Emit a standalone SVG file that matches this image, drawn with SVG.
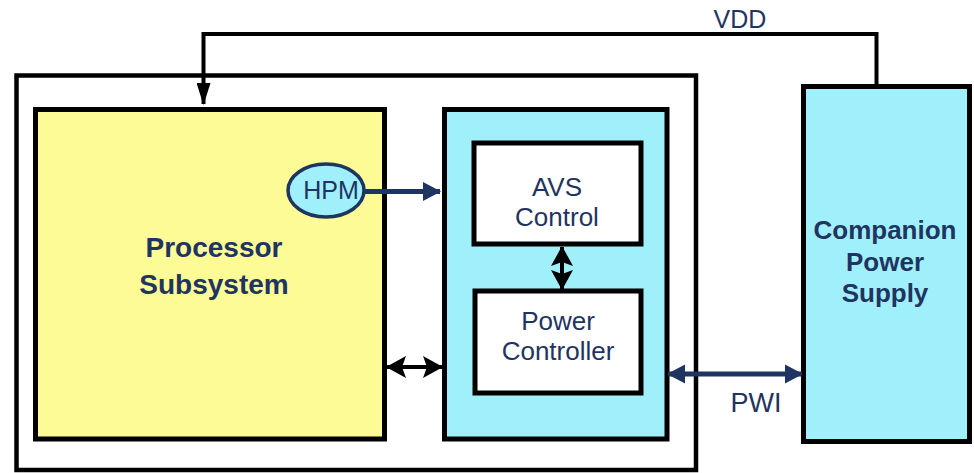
<svg xmlns="http://www.w3.org/2000/svg" width="974" height="473" viewBox="0 0 974 473">
  <defs>
    <style>
      .box { stroke: #000; stroke-width: 5; }
      .yellow { fill: #FCFB96; }
      .cyan { fill: #A0F0FC; }
      .white { fill: #FFFFFF; }
      .label { font-family: "Liberation Sans", Arial, sans-serif; fill: #1F3461; text-anchor: middle; }
      .bold { font-weight: bold; }
      .wire { fill: none; stroke: #000; stroke-width: 4; }
      .link { fill: none; stroke: #000; stroke-width: 4; }
      .bus { fill: none; stroke: #1F3461; stroke-width: 5; }
    </style>
    <marker id="headBlack" viewBox="0 0 20 22" refX="19" refY="11" markerWidth="20" markerHeight="22" markerUnits="userSpaceOnUse" orient="auto-start-reverse">
      <path d="M0,0 L20,11 L0,22 L4,11 Z" fill="#000"/>
    </marker>
    <marker id="headNavy" viewBox="0 0 18 20" refX="17" refY="10" markerWidth="18" markerHeight="20" markerUnits="userSpaceOnUse" orient="auto-start-reverse">
      <path d="M0,0.5 L18,10 L0,19.5 Z" fill="#1F3461"/>
    </marker>
    <marker id="headVdd" viewBox="0 0 14 22" refX="7" refY="21" markerWidth="14" markerHeight="22" markerUnits="userSpaceOnUse" orient="0">
      <path d="M0,0 L14,0 L7,22 Z" fill="#000"/>
    </marker>
  </defs>

  <!-- SoC boundary -->
  <g id="soc">
    <rect x="16.5" y="75.5" width="679.5" height="394.5" fill="#FFFFFF" stroke="#000" stroke-width="4.5"/>
  </g>

  <g id="processor-subsystem">
    <rect class="box yellow" x="35.5" y="109.5" width="349" height="329.5"/>
    <text class="label bold" x="214" y="257" font-size="28">Processor</text>
    <text class="label bold" x="214" y="294" font-size="28">Subsystem</text>
  </g>

  <g id="power-block">
    <rect class="box cyan" x="444.5" y="109.5" width="222.5" height="329.5"/>
  </g>

  <g id="avs-control">
    <rect class="box white" x="474" y="143" width="167" height="101"/>
    <text class="label" x="557" y="196" font-size="26">AVS</text>
    <text class="label" x="557" y="226" font-size="26">Control</text>
  </g>

  <g id="power-controller">
    <rect class="box white" x="475" y="291" width="166" height="102"/>
    <text class="label" x="558" y="330" font-size="26">Power</text>
    <text class="label" x="558" y="360" font-size="26">Controller</text>
  </g>

  <g id="companion-power-supply">
    <rect class="box cyan" x="803.5" y="86.5" width="166" height="355"/>
    <text class="label bold" x="885" y="239" font-size="26">Companion</text>
    <text class="label bold" x="885" y="271" font-size="26">Power</text>
    <text class="label bold" x="885" y="302" font-size="26">Supply</text>
  </g>

  <g id="connectors">
    <!-- supply rail -->
    <path class="wire" d="M876.5,86 V34 H203.5 V104" marker-end="url(#headVdd)"/>
    <text class="label" x="740" y="28" font-size="25">VDD</text>
    <!-- monitor output -->
    <line class="bus" x1="365" y1="191.5" x2="440" y2="191.5" marker-end="url(#headNavy)"/>
    <!-- processor to power block -->
    <line class="link" x1="387" y1="367" x2="442" y2="367" marker-start="url(#headBlack)" marker-end="url(#headBlack)"/>
    <!-- AVS to power controller -->
    <line class="link" x1="562" y1="247" x2="562" y2="289" marker-start="url(#headBlack)" marker-end="url(#headBlack)"/>
    <!-- power interface -->
    <line class="bus" x1="668" y1="374" x2="802" y2="374" marker-start="url(#headNavy)" marker-end="url(#headNavy)"/>
    <text class="label" x="756" y="412" font-size="27">PWI</text>
  </g>

  <g id="hpm">
    <ellipse cx="326" cy="190.5" rx="38" ry="26.5" fill="#A0F0FC" stroke="#1F3461" stroke-width="3.5"/>
    <text class="label" x="331" y="199" font-size="25">HPM</text>
  </g>
</svg>
